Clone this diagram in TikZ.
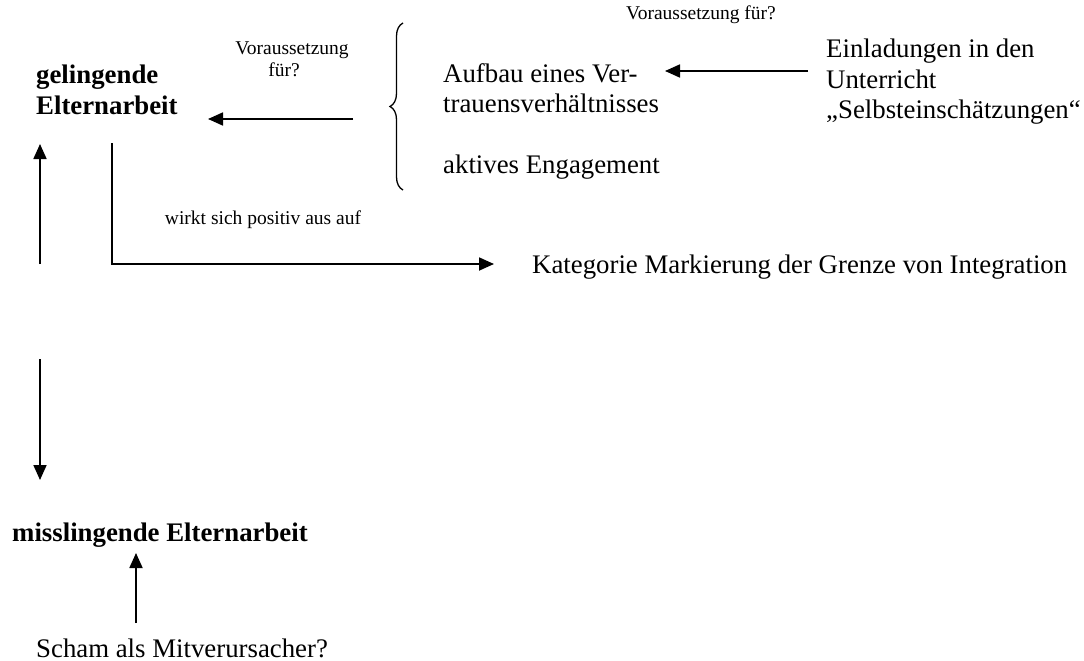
\documentclass[tikz,border=0pt]{standalone}
\usepackage{fontspec}
\setmainfont{Liberation Serif}
\usetikzlibrary{arrows.meta,decorations.pathreplacing}
\begin{document}
\begin{tikzpicture}[x=1pt,y=-1pt,
  big/.style={inner sep=0pt,anchor=base west,font=\fontsize{26.8}{30.5}\selectfont},
  bigb/.style={big,font=\fontsize{26.8}{30.5}\selectfont\bfseries},
  small/.style={inner sep=0pt,anchor=base,font=\fontsize{19.5}{24}\selectfont},
  conn/.style={line width=1.8pt,-{Triangle[length=15pt,width=13pt]}}]
\useasboundingbox (0,0) rectangle (1084,661);
% texts
\node[bigb] (gel1) at (36,84) {gelingende};
\node[bigb] (gel2) at (36,114) {Elternarbeit};
\node[small] (vor1) at (292,55) {Voraussetzung};
\node[small] (vor2) at (284,77) {für?};
\node[big] (auf1) at (443,82) {Aufbau eines Ver-};
\node[big] (auf2) at (443,112) {trauensverhältnisses};
\node[big] (akt) at (443,173) {aktives Engagement};
\node[small] (vor3) at (701,20) {Voraussetzung für?};
\node[big] (ein1) at (826,58) {Einladungen in den};
\node[big] (ein2) at (826,88.5) {Unterricht};
\node[big] (ein3) at (826,118) {„Selbsteinschätzungen“};
\node[small] (wirkt) at (263,224) {wirkt sich positiv aus auf};
\node[big] (kat) at (532,273) {Kategorie Markierung der Grenze von Integration};
\node[bigb] (miss) at (12,541) {misslingende Elternarbeit};
\node[big] (scham) at (36,657) {Scham als Mitverursacher?};
% coordinates
\coordinate (a1s) at (353,119); \coordinate (a1e) at (208,119);
\coordinate (a2s) at (808,71);  \coordinate (a2e) at (665,71);
\coordinate (e1) at (112,143); \coordinate (e2) at (112,264); \coordinate (e3) at (494,264);
\coordinate (u1s) at (40,264); \coordinate (u1e) at (40,144);
\coordinate (d1s) at (40,359); \coordinate (d1e) at (40,480);
\coordinate (u2s) at (136,623); \coordinate (u2e) at (136,553);
\coordinate (bb) at (403,190); \coordinate (bt) at (403,23);
% connectors
\draw[conn] (a1s) -- (a1e);
\draw[conn] (a2s) -- (a2e);
\draw[conn] (e1) -- (e2) -- (e3);
\draw[conn] (u1s) -- (u1e);
\draw[conn] (d1s) -- (d1e);
\draw[conn] (u2s) -- (u2e);
% brace
\draw[line width=1.3pt,decorate,decoration={brace,amplitude=13pt,aspect=0.5}] (bb) -- (bt);
\end{tikzpicture}
\end{document}
